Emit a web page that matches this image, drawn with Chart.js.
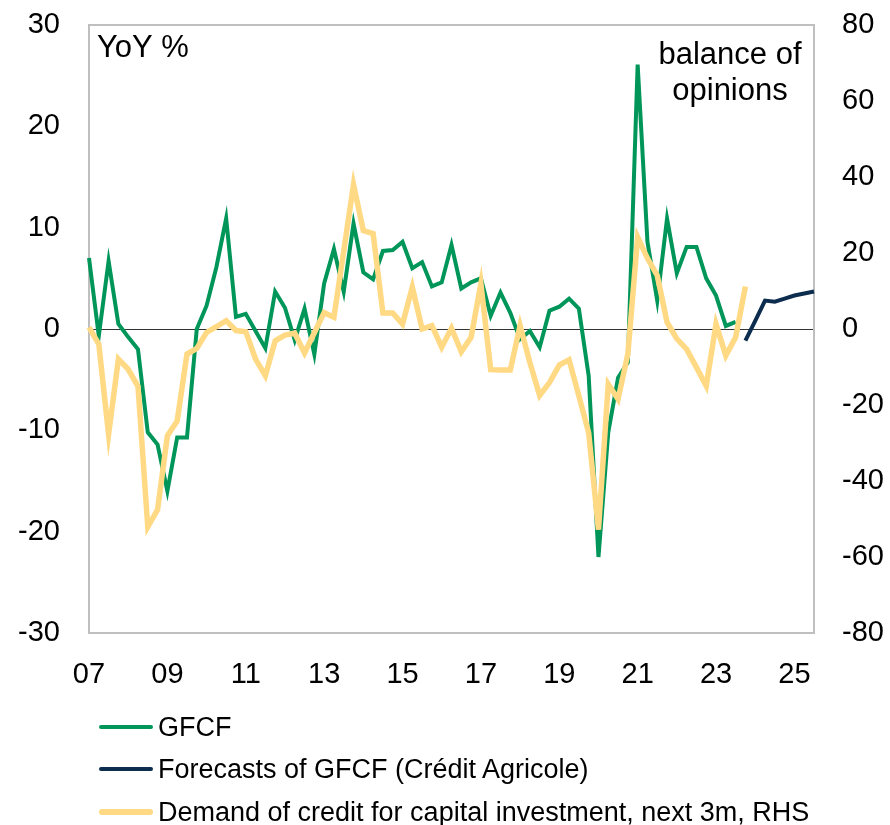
<!DOCTYPE html>
<html>
<head>
<meta charset="utf-8">
<title>GFCF and demand of credit for capital investment</title>
<script src="https://cdn.jsdelivr.net/npm/chart.js@4.4.1/dist/chart.umd.min.js"></script>
<style>
  body { margin: 0; background: #fff; }
  #wrap { position: relative; width: 890px; height: 825px; }
  #legend { font-family: "Liberation Sans", Arial, sans-serif; font-size: 27px; color: #000; }
  .item { position: absolute; left: 99px; height: 30px; display: flex; align-items: center; white-space: nowrap; }
  .swatch { width: 54px; margin-right: 5px; border-radius: 3px; }
</style>
</head>
<body>
<div id="wrap">
  <canvas id="chart" width="890" height="825"></canvas>
  <div id="legend"></div>
</div>
<script>
// quarters, 2007Q1 .. 2025Q3
const categories = [
  '2007Q1','2007Q2','2007Q3','2007Q4','2008Q1','2008Q2','2008Q3','2008Q4',
  '2009Q1','2009Q2','2009Q3','2009Q4','2010Q1','2010Q2','2010Q3','2010Q4',
  '2011Q1','2011Q2','2011Q3','2011Q4','2012Q1','2012Q2','2012Q3','2012Q4',
  '2013Q1','2013Q2','2013Q3','2013Q4','2014Q1','2014Q2','2014Q3','2014Q4',
  '2015Q1','2015Q2','2015Q3','2015Q4','2016Q1','2016Q2','2016Q3','2016Q4',
  '2017Q1','2017Q2','2017Q3','2017Q4','2018Q1','2018Q2','2018Q3','2018Q4',
  '2019Q1','2019Q2','2019Q3','2019Q4','2020Q1','2020Q2','2020Q3','2020Q4',
  '2021Q1','2021Q2','2021Q3','2021Q4','2022Q1','2022Q2','2022Q3','2022Q4',
  '2023Q1','2023Q2','2023Q3','2023Q4','2024Q1','2024Q2','2024Q3','2024Q4',
  '2025Q1','2025Q2','2025Q3'
];

// x tick labels and the quarter they sit on
const tickQuarters = ['2007Q1','2009Q1','2011Q1','2013Q1','2015Q1','2017Q1','2019Q1','2021Q1','2023Q1','2025Q1'];
const tickLabels = ['07','09','11','13','15','17','19','21','23','25'];

// GFCF, YoY %, from 2007Q1
const gfcf = [
  7.0, -0.7, 6.7, 0.5, -0.8, -2.0, -10.2, -11.4,
  -16.0, -10.7, -10.7, 0.0, 2.3, 6.1, 10.9, 1.2,
  1.5, -0.2, -1.9, 3.7, 2.1, -1.1, 2.0, -2.5,
  4.5, 7.9, 3.7, 10.4, 5.6, 4.9, 7.7, 7.8,
  8.6, 6.0, 6.6, 4.2, 4.6, 8.3, 4.0, 4.6,
  5.0, 1.3, 3.6, 1.6, -1.0, -0.2, -1.8, 1.8,
  2.2, 3.0, 2.0, -4.6, -22.5, -10.2, -4.8, -3.3,
  26.1, 8.6, 2.8, 10.9, 5.5, 8.1, 8.1, 5.0,
  3.3, 0.3, 0.7
];

// Crédit Agricole forecasts of GFCF, from 2023Q4
const forecastStart = '2023Q4';
const gfcfForecast = [-1.15, 0.8, 2.8, 2.7, 3.0, 3.3, 3.5, 3.7];

// demand of credit for capital investment, balance of opinions (RHS), from 2007Q1
const creditDemand = [
  0.4, -4.0, -27.7, -7.9, -10.6, -15.1, -52.1, -47.5,
  -28.1, -24.2, -6.6, -5.1, -0.9, 0.6, 2.2, -0.4,
  -0.7, -7.9, -12.3, -3.1, -1.6, -1.1, -6.3, -1.0,
  4.3, 3.1, 20.5, 38.0, 25.9, 25.1, 4.2, 4.2,
  1.3, 11.0, 0.0, 0.9, -4.8, 0.2, -6.0, -2.2,
  11.9, -10.7, -10.8, -10.8, 0.9, -8.8, -17.5, -14.1,
  -9.5, -8.1, -17.6, -27.3, -52.8, -14.5, -18.5, -6.6,
  24.2, 18.6, 14.1, 1.8, -2.6, -5.3, -10.1, -15.0,
  1.3, -7.0, -2.2, 11.2
];

const FONT = '"Liberation Sans", Arial, sans-serif';

function points(values, start) {
  const offset = categories.indexOf(start);
  return values.map((v, i) => ({ x: categories[offset + i], y: v }));
}

// the y axes should not push the plot down for their half label heights
function fixSize(prop, size) {
  return s => {
    s[prop] = size;
    s.paddingTop = 0;
    s.paddingBottom = 0;
    s.paddingLeft = 0;
    s.paddingRight = 0;
  };
}

const framePlugin = {
  id: 'frame',
  beforeDatasetsDraw(chart) {
    const { ctx, chartArea: a } = chart;
    ctx.save();
    ctx.strokeStyle = '#bfbfbf';
    ctx.lineWidth = 2;
    ctx.strokeRect(a.left, a.top, a.right - a.left, a.bottom - a.top);
    ctx.restore();
  },
  afterDraw(chart) {
    const { ctx, chartArea: a } = chart;
    ctx.save();
    ctx.fillStyle = '#000';
    ctx.font = '31px ' + FONT;
    ctx.textBaseline = 'alphabetic';
    ctx.textAlign = 'left';
    ctx.fillText('YoY %', a.left + 8, a.top + 32);
    ctx.textAlign = 'center';
    ctx.fillText('balance of', a.right - 84, a.top + 39);
    ctx.fillText('opinions', a.right - 84, a.top + 75);
    ctx.restore();
  }
};

const tickFont = { family: FONT, size: 29 };

const chart = new Chart(document.getElementById('chart'), {
  type: 'line',
  data: {
    labels: categories,
    datasets: [
      {
        label: 'GFCF',
        data: points(gfcf, categories[0]),
        borderColor: '#00965A',
        borderWidth: 4,
        yAxisID: 'y',
        order: 2
      },
      {
        label: 'Forecasts of GFCF (Crédit Agricole)',
        data: points(gfcfForecast, forecastStart),
        borderColor: '#0D2D4F',
        borderWidth: 4,
        yAxisID: 'y',
        order: 1
      },
      {
        label: 'Demand of credit for capital investment, next 3m, RHS',
        data: points(creditDemand, categories[0]),
        borderColor: '#FFD983',
        borderWidth: 5.5,
        yAxisID: 'y1',
        order: 0
      }
    ]
  },
  options: {
    responsive: false,
    animation: false,
    devicePixelRatio: 1,
    elements: {
      point: { radius: 0 },
      line: { tension: 0, borderCapStyle: 'butt', borderJoinStyle: 'miter' }
    },
    layout: { padding: { top: 25, left: 0, right: 0, bottom: 122 } },
    plugins: {
      legend: { display: false },
      tooltip: { enabled: false }
    },
    scales: {
      x: {
        type: 'category',
        offset: false,
        border: { display: false },
        grid: { display: false, drawTicks: false },
        ticks: {
          autoSkip: false,
          maxRotation: 0,
          minRotation: 0,
          padding: 25,
          color: '#000',
          font: tickFont,
          callback: (value, index) => {
            const k = tickQuarters.indexOf(categories[index]);
            return k >= 0 ? tickLabels[k] : '';
          }
        },
        afterFit: fixSize('height', 70)
      },
      y: {
        position: 'left',
        min: -30,
        max: 30,
        border: { display: false },
        grid: {
          drawTicks: false,
          lineWidth: 1,
          color: c => c.tick && c.tick.value === 0 ? '#333333' : 'rgba(0,0,0,0)'
        },
        ticks: { stepSize: 10, padding: 29, color: '#000', font: tickFont },
        afterFit: fixSize('width', 89)
      },
      y1: {
        position: 'right',
        min: -80,
        max: 80,
        border: { display: false },
        grid: { display: false, drawTicks: false },
        ticks: { stepSize: 20, padding: 28, color: '#000', font: tickFont },
        afterFit: fixSize('width', 76)
      }
    }
  },
  plugins: [framePlugin]
});

// legend, one entry per row like the original
const rowTops = [712, 754, 797];
const legend = document.getElementById('legend');
chart.data.datasets.forEach((ds, i) => {
  const item = document.createElement('div');
  item.className = 'item';
  item.style.top = rowTops[i] + 'px';
  const sw = document.createElement('span');
  sw.className = 'swatch';
  sw.style.height = ds.borderWidth + 'px';
  sw.style.background = ds.borderColor;
  const txt = document.createElement('span');
  txt.textContent = ds.label;
  item.appendChild(sw);
  item.appendChild(txt);
  legend.appendChild(item);
});
</script>
</body>
</html>
